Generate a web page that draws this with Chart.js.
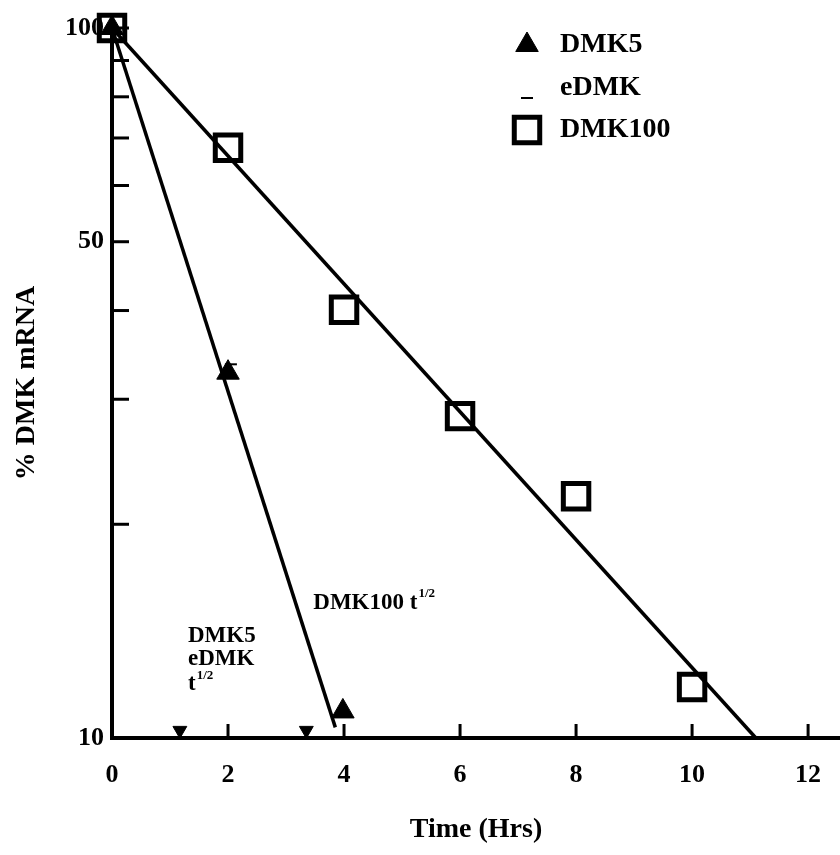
<!DOCTYPE html>
<html>
<head>
<meta charset="utf-8">
<style>
  html, body { margin: 0; background: #fff; }
  #wrap { width: 840px; height: 855px; }
</style>
<script src="https://cdn.jsdelivr.net/npm/chart.js@4.4.1/dist/chart.umd.min.js"></script>
</head>
<body>
<div id="wrap"><canvas id="chart" width="840" height="855"></canvas></div>
<script>
const FONT = "'Liberation Serif', 'Times New Roman', serif";

const X_TICKS = [0, 2, 4, 6, 8, 10, 12];
const Y_TICKS = [10, 20, 30, 40, 50, 60, 70, 80, 90, 100];
const Y_LABELS = [10, 50, 100];

const DMK100_TIMES = [0, 2, 4, 6, 8, 10];
const DMK100_VALUES = [100, 67.8, 40.1, 28.4, 21.9, 11.8];
const DMK5_TIMES = [0, 2, 3.98];
const DMK5_VALUES = [100, 32.7, 10.9];
const EDMK_TIMES = [0, 2.05];
const EDMK_VALUES = [100, 33.6];

// fitted decay lines (start / end)
const DMK100_FIT_T = [0, 11.1];
const DMK100_FIT_V = [100, 10];
const DMK5_FIT_T = [0, 3.85];
const DMK5_FIT_V = [100, 10.35];

// half-life markers on the time axis
const HALF_LIFE_T = [1.17, 3.35];
const HALF_LIFE_V = [10.25, 10.25];

const pts = (xs, ys) => xs.map((x, i) => ({ x, y: ys[i] }));

// tick marks drawn inward, as in the original figure
const inwardTicks = {
  id: 'inwardTicks',
  afterDraw(chart) {
    const { ctx, chartArea, scales } = chart;
    ctx.save();
    ctx.strokeStyle = '#000';
    ctx.lineWidth = 3;
    Y_TICKS.slice(1).forEach(v => {
      const y = scales.y.getPixelForValue(v);
      ctx.beginPath();
      ctx.moveTo(chartArea.left, y);
      ctx.lineTo(chartArea.left + 17, y);
      ctx.stroke();
    });
    X_TICKS.slice(1).forEach(v => {
      const x = scales.x.getPixelForValue(v);
      ctx.beginPath();
      ctx.moveTo(x, chartArea.bottom);
      ctx.lineTo(x, chartArea.bottom - 14);
      ctx.stroke();
    });
    ctx.restore();
  }
};

function drawHalf(ctx, x, y, size) {
  // "t" with superscript 1/2
  ctx.font = `bold ${size}px ${FONT}`;
  ctx.fillText('t', x, y);
  const w = ctx.measureText('t').width;
  ctx.font = `bold ${Math.round(size * 0.55)}px ${FONT}`;
  ctx.fillText('1/2', x + w + 1, y - size * 0.38);
}

const notes = {
  id: 'notes',
  afterDraw(chart) {
    const { ctx, scales } = chart;
    ctx.save();
    ctx.fillStyle = '#000';
    ctx.textBaseline = 'middle';
    ctx.textAlign = 'left';

    // DMK100 t1/2
    let x = scales.x.getPixelForValue(3.47);
    let y = scales.y.getPixelForValue(15.5);
    ctx.font = `bold 23px ${FONT}`;
    ctx.fillText('DMK100 ', x, y);
    drawHalf(ctx, x + ctx.measureText('DMK100 ').width, y, 23);

    // DMK5 / eDMK / t1/2
    x = scales.x.getPixelForValue(1.31);
    ctx.font = `bold 23px ${FONT}`;
    ctx.fillText('DMK5', x, scales.y.getPixelForValue(13.9));
    ctx.fillText('eDMK', x, scales.y.getPixelForValue(12.9));
    drawHalf(ctx, x, scales.y.getPixelForValue(11.9), 23);

    // legend
    const items = [
      { ds: 1, y: 45 },
      { ds: 2, y: 88 },
      { ds: 0, y: 130 }
    ];
    items.forEach(it => {
      const d = chart.data.datasets[it.ds];
      ctx.fillStyle = d.backgroundColor;
      ctx.strokeStyle = d.borderColor;
      ctx.lineWidth = d.borderWidth;
      Chart.helpers.drawPoint(ctx, {
        pointStyle: d.pointStyle,
        radius: d.pointRadius,
        borderWidth: d.borderWidth,
        rotation: 0
      }, 527, it.y + (d.label === 'eDMK' ? 10 : 0));
      ctx.fillStyle = '#000';
      ctx.font = `bold 28px ${FONT}`;
      ctx.fillText(d.label, 560, it.y);
    });
    ctx.restore();
  }
};

new Chart(document.getElementById('chart'), {
  data: {
    datasets: [
      {
        type: 'scatter', label: 'DMK100', order: 1, clip: false,
        data: pts(DMK100_TIMES, DMK100_VALUES),
        pointStyle: 'rect', pointRadius: 18, borderWidth: 5,
        borderColor: '#000', backgroundColor: 'rgba(0,0,0,0)'
      },
      {
        type: 'scatter', label: 'DMK5', order: 1, clip: false,
        data: pts(DMK5_TIMES, DMK5_VALUES),
        pointStyle: 'triangle', pointRadius: 13, borderWidth: 1,
        borderColor: '#000', backgroundColor: '#000'
      },
      {
        type: 'scatter', label: 'eDMK', order: 0, clip: false,
        data: pts(EDMK_TIMES, EDMK_VALUES),
        pointStyle: 'line', pointRadius: 6, borderWidth: 2,
        borderColor: '#000', backgroundColor: '#000'
      },
      {
        type: 'line', label: 'DMK100 fit', order: 2, clip: false,
        data: pts(DMK100_FIT_T, DMK100_FIT_V),
        borderColor: '#000', borderWidth: 3.5, pointRadius: 0, fill: false
      },
      {
        type: 'line', label: 'DMK5 fit', order: 2, clip: false,
        data: pts(DMK5_FIT_T, DMK5_FIT_V),
        borderColor: '#000', borderWidth: 3.5, pointRadius: 0, fill: false
      },
      {
        type: 'scatter', label: 't1/2', order: 1, clip: false,
        data: pts(HALF_LIFE_T, HALF_LIFE_V),
        pointStyle: 'triangle', rotation: 180, pointRadius: 8, borderWidth: 1,
        borderColor: '#000', backgroundColor: '#000'
      }
    ]
  },
  options: {
    responsive: false,
    animation: false,
    devicePixelRatio: 1,
    layout: { autoPadding: false, padding: { top: 28, right: 0, left: 0, bottom: 0 } },
    plugins: { legend: { display: false }, tooltip: { enabled: false } },
    elements: { point: { hoverRadius: 0 } },
    scales: {
      x: {
        type: 'linear', min: 0, max: 12.55,
        afterBuildTicks: s => { s.ticks = X_TICKS.map(v => ({ value: v })); },
        afterFit: s => { s.height = 117; s.paddingLeft = 0; s.paddingRight = 0; },
        grid: { display: false, drawTicks: false },
        border: { display: true, color: '#000', width: 4 },
        ticks: { color: '#000', font: { family: FONT, size: 26, weight: 'bold' }, padding: 22, maxRotation: 0, autoSkip: false },
        title: { display: true, text: 'Time (Hrs)', color: '#000', font: { family: FONT, size: 28, weight: 'bold' }, padding: { top: 0, bottom: 8 } }
      },
      y: {
        type: 'logarithmic', min: 10, max: 100,
        afterBuildTicks: s => { s.ticks = Y_TICKS.map(v => ({ value: v })); },
        afterFit: s => { s.width = 112; s.paddingTop = 0; s.paddingBottom = 0; },
        grid: { display: false, drawTicks: false },
        border: { display: true, color: '#000', width: 4 },
        ticks: {
          color: '#000', font: { family: FONT, size: 26, weight: 'bold' }, padding: 8, autoSkip: false,
          callback: v => Y_LABELS.includes(v) ? String(v) : ''
        },
        title: { display: true, text: '% DMK mRNA', color: '#000', font: { family: FONT, size: 28, weight: 'bold' }, padding: { top: 10, bottom: 0 } }
      }
    }
  },
  plugins: [inwardTicks, notes]
});
</script>
</body>
</html>
